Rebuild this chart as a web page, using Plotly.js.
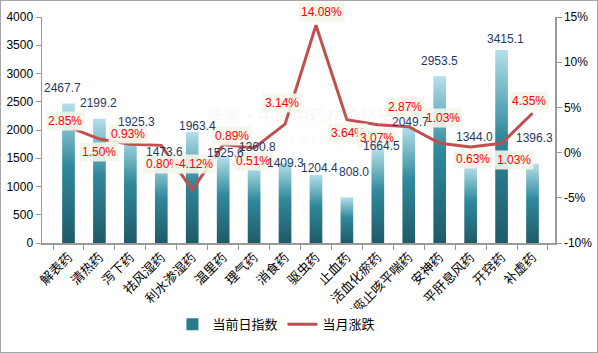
<!DOCTYPE html>
<html><head><meta charset="utf-8">
<script src="https://cdn.plot.ly/plotly-3.0.1.min.js"></script>
<style>
html,body{margin:0;padding:0;background:#fff;}
#chart{width:598px;height:353px;box-sizing:border-box;border:1px solid #a6a6a6;}
</style></head>
<body><div id="chart"></div>
<script>
const categories = ['解表药','清热药','泻下药','祛风湿药','利水渗湿药','温里药','理气药','消食药','驱虫药','止血药','活血化瘀药','化痰止咳平喘药','安神药','平肝息风药','开窍药','补虚药'];
const indexValues = [2467.7, 2199.2, 1925.3, 1473.6, 1963.4, 1525.6, 1360.8, 1409.3, 1204.4, 808.0, 1664.5, 2049.7, 2953.5, 1344.0, 3415.1, 1396.3];
const monthChange = [2.85, 1.50, 0.93, 0.80, -4.12, 0.89, 0.51, 3.14, 14.08, 3.64, 3.07, 2.87, 1.03, 0.63, 1.03, 4.35];
const leftTicks = [0,500,1000,1500,2000,2500,3000,3500,4000];
const rightTicks = [-10,-5,0,5,10,15];
const seriesNames = ['当前日指数','当月涨跌'];

// label placement offsets (pixels) - styling only
const barLabelDy = [16,16,12,8,6,4,19,0,7,25,3,5,15,30,11,26];
const barLabelDx = [-6,-1,6,3,5,2,3,0,4,7,4,2,0,4,4,2];
const lineLabelDy = [6,-13,10,-19,26,9,-13,21,13,-13,-13,20,25,-12,-17,12];
const lineLabelDx = [-4,0,-2,2,2,9,-1,-3,6,1,-1,-4,3,2,12,-4];

const barTrace = {
  type:'bar', x:categories, y:indexValues, name:seriesNames[0],
  marker:{color:'#2c7a8d', line:{width:0}}, hoverinfo:'none'
};
const lineTrace = {
  type:'scatter', mode:'lines', x:categories, y:monthChange, yaxis:'y2', name:seriesNames[1],
  line:{color:'#c0504d', width:3}, hoverinfo:'none'
};

const annotations = [];
annotations.push({xref:'paper', yref:'paper', x:0.52, y:0.57, text:'康美·中国中药材价格指数', showarrow:false,
  font:{family:'Noto Sans CJK SC', size:17, color:'rgba(190,190,190,0.12)'}});
annotations.push({xref:'paper', yref:'paper', x:0.52, y:0.45, text:'W W W . C N K M P R I C E . C O M', showarrow:false,
  font:{family:'Liberation Sans, Arial', size:11, color:'rgba(190,190,190,0.12)'}});
categories.forEach((c,i)=>{
  annotations.push({x:c, y:monthChange[i], xref:'x', yref:'y2', text:monthChange[i].toFixed(2)+'%',
    showarrow:false, yshift:lineLabelDy[i], xshift:lineLabelDx[i], bgcolor:'rgba(243,246,234,0.9)', borderpad:2,
    font:{family:'Liberation Sans, Arial, sans-serif', size:12, color:'#ff0000'}});
});
categories.forEach((c,i)=>{
  annotations.push({x:c, y:indexValues[i], xref:'x', yref:'y', text:indexValues[i].toFixed(1),
    showarrow:false, yshift:barLabelDy[i], xshift:barLabelDx[i],
    font:{family:'Liberation Sans, Arial, sans-serif', size:12, color:'#1f3864'}});
});

const axisFont = {family:'Liberation Sans, Arial, sans-serif', size:12, color:'#000'};
const layout = {
  width:596, height:351,
  margin:{l:41, r:42, t:16, b:109, pad:0},
  paper_bgcolor:'#fff', plot_bgcolor:'#fff',
  bargap:0.59,
  showlegend:true,
  legend:{orientation:'h', x:0.457, xanchor:'center', y:-0.36, yanchor:'middle',
    font:{family:'Noto Sans CJK SC', size:13, color:'#000'}, itemwidth:30, traceorder:'normal'},
  xaxis:{type:'category', tickangle:-45, showline:true, linecolor:'#999', linewidth:1.5,
    ticks:'outside', tickson:'boundaries', ticklen:5, tickcolor:'#999', showgrid:false,
    tickfont:{family:'Noto Sans CJK SC', size:13, color:'#000'}},
  yaxis:{range:[0,4000], tickvals:leftTicks, showline:true, linecolor:'#999', linewidth:1.5,
    ticks:'outside', ticklen:5, tickcolor:'#999', showgrid:false, zeroline:false, tickfont:axisFont},
  yaxis2:{overlaying:'y', side:'right', range:[-10,15], tickvals:rightTicks, ticktext:rightTicks.map(v=>v+'%'),
    showline:true, linecolor:'#999', linewidth:1.5, ticks:'outside', ticklen:5, tickcolor:'#999',
    showgrid:false, zeroline:false, tickfont:axisFont},
  annotations:annotations
};

Plotly.newPlot('chart',[barTrace,lineTrace],layout,{staticPlot:true,displayModeBar:false}).then(gd=>{
  const ns='http://www.w3.org/2000/svg';
  const svg=gd.querySelector('svg.main-svg');
  let defs=svg.querySelector('defs');
  if(!defs){defs=document.createElementNS(ns,'defs');svg.insertBefore(defs,svg.firstChild);}
  const g=document.createElementNS(ns,'linearGradient');
  g.setAttribute('id','barGrad');g.setAttribute('x1','0');g.setAttribute('y1','0');g.setAttribute('x2','0');g.setAttribute('y2','1');
  [['0','#b4dfe9'],['0.45','#2f899c'],['1','#1f5a69']].forEach(s=>{
    const st=document.createElementNS(ns,'stop');st.setAttribute('offset',s[0]);st.setAttribute('stop-color',s[1]);g.appendChild(st);
  });
  defs.appendChild(g);
  gd.querySelectorAll('.barlayer .point path').forEach(p=>{p.style.fill='url(#barGrad)';});
});
</script></body></html>
